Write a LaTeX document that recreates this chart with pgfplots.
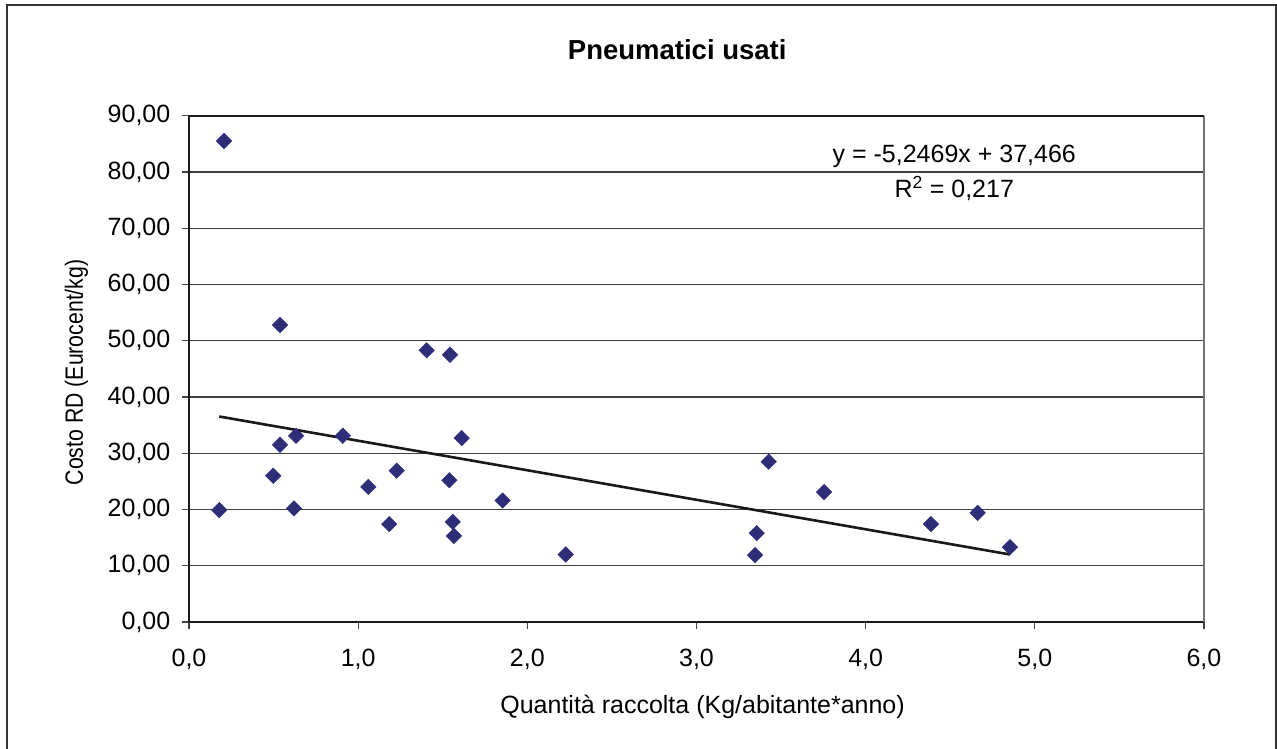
\documentclass[border=0pt]{standalone}
\usepackage{pgfplots}
\pgfplotsset{compat=1.18}
\usepackage{pgfplotstable}
\usepackage{fontspec}
\setmainfont{Liberation Sans}
\newfontfamily\ylabfont{Liberation Sans}[FakeStretch=0.85]
\definecolor{mk}{RGB}{46,46,120}
\pgfplotstableread{
x y
0.207 85.5
0.538 52.8
1.405 48.3
1.543 47.5
0.179 19.9
0.498 26.0
0.538 31.5
0.633 33.1
0.621 20.2
0.909 33.1
1.060 24.0
1.184 17.4
1.228 26.9
1.539 25.2
1.559 17.8
1.566 15.3
1.612 32.7
1.854 21.6
2.227 12.0
3.346 11.9
3.356 15.8
3.427 28.5
3.754 23.1
4.386 17.4
4.662 19.4
4.853 13.3
}\datatable
\begin{document}
\begin{tikzpicture}
\path[use as bounding box] (0,0) rectangle (1277pt,749pt);
\draw[line width=1.5pt, black!80] (7pt,0) -- (7pt,744pt) -- (1276pt,744pt) -- (1276pt,0);
\begin{axis}[
  at={(189pt,127pt)}, anchor=south west,
  scale only axis, width=1015pt, height=506.3pt,
  xmin=0, xmax=6, ymin=0, ymax=90,
  xtick={0,1,...,6}, ytick={0,10,...,90},
  axis x line*=bottom, axis y line*=left,
  axis line style={line width=1.6pt, black!90, -},
  tick align=outside, major tick length=7pt,
  tick style={line width=1.3pt, black!75},
  ymajorgrids, grid style={line width=1.3pt, black!75},
  font=\fontsize{25}{30}\selectfont,
  tick label style={font=\fontsize{25}{30}\selectfont},
  /pgf/number format/assume math mode=true,
  x tick label style={/pgf/number format/.cd, fixed, fixed zerofill, precision=1, use comma, assume math mode=true, /tikz/.cd, inner sep=0pt, anchor=north, yshift=-20pt},
  y tick label style={/pgf/number format/.cd, fixed, fixed zerofill, precision=2, use comma, assume math mode=true, /tikz/.cd, inner sep=0pt, anchor=east, xshift=-11.5pt},
  title={\bfseries\fontsize{27.5}{32}\selectfont Pneumatici usati},
  title style={at={(axis description cs:0.481,1.100)}, anchor=base, inner sep=0pt},
  xlabel={Quantità raccolta (Kg/abitante*anno)},
  xlabel style={at={(axis description cs:0.506,-0.180)}, anchor=base, inner sep=0pt},
  ylabel={\ylabfont Costo RD (Eurocent/kg)},
  ylabel style={at={(axis description cs:-0.1045,0.493)}, anchor=base, inner sep=0pt},
  clip=false,
]
\draw[line width=1.8pt, black!55] (rel axis cs:1,0) -- (rel axis cs:1,1);
\draw[line width=1.8pt, black!90] (rel axis cs:0,1) -- (rel axis cs:1,1);
\addplot[no marks, line width=2.6pt, black!90] coordinates {(0.179,36.527) (4.853,12.003)};
\addplot[only marks, mark=square*, mark size=5.5pt, mark options={rotate=45, fill=mk, draw=mk}] table[x=x, y=y] {\datatable};
\node[anchor=base, inner sep=0pt] at (axis cs:4.524,81.6) {y = -5,2469x + 37,466};
\node[anchor=base, inner sep=0pt] at (axis cs:4.524,75.4) {R\textsuperscript{2} = 0,217};
\end{axis}
\end{tikzpicture}
\end{document}
